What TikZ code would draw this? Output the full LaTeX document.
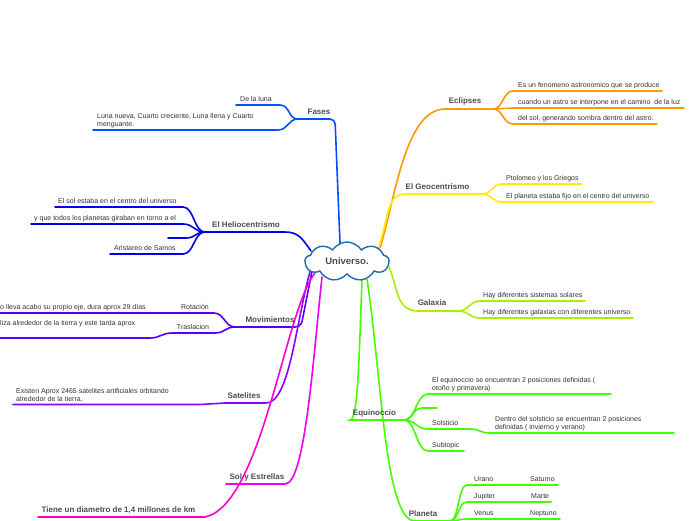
\documentclass[tikz,border=0pt]{standalone}
\usepackage{fontspec}
\setmainfont{Liberation Sans}
\usetikzlibrary{shapes.symbols}
\definecolor{cFases}{HTML}{0050FF}
\definecolor{cHelio}{HTML}{0000EE}
\definecolor{cMov}{HTML}{5500FF}
\definecolor{cSat}{HTML}{8800FF}
\definecolor{cSol}{HTML}{EE00EE}
\definecolor{cTiene}{HTML}{FF00CC}
\definecolor{cEcl}{HTML}{FF9900}
\definecolor{cGeo}{HTML}{FFEE00}
\definecolor{cGal}{HTML}{AAEE00}
\definecolor{cEqu}{HTML}{44FF00}
\definecolor{cloudc}{HTML}{1F6BAE}
\definecolor{txt}{HTML}{333333}
\definecolor{labc}{HTML}{4D4D4D}
\begin{document}
\begin{tikzpicture}[x=1pt,y=-1pt,
  br/.style={line width=1.6pt, line cap=round},
  leaf/.style={font=\fontsize{7}{8}\selectfont, text=txt, inner sep=0pt, anchor=base west},
  leafm/.style={font=\fontsize{7}{8}\selectfont, text=txt, inner sep=0pt, anchor=south west, align=left},
  lab/.style={font=\fontsize{8}{9}\selectfont\bfseries, text=labc, inner sep=0pt, anchor=base},
]
\fill[white] (0,0) rectangle (696,520);
\useasboundingbox (0,0) rectangle (696,520);

% ---------- coordinates ----------
% Fases
\coordinate (fS) at (340,243); \coordinate (fC) at (335,119); \coordinate (fJ) at (298,119);
\coordinate (f1a) at (280,105); \coordinate (f1b) at (236,105);
\coordinate (f2a) at (278,130); \coordinate (f2b) at (93,130);
% Heliocentrismo
\coordinate (hS) at (311,251); \coordinate (hC) at (285,232); \coordinate (hJ) at (205,232);
\coordinate (h1a) at (183,207); \coordinate (h1b) at (55,207);
\coordinate (h2a) at (183,224); \coordinate (h2b) at (31,224);
\coordinate (h3a) at (186,238); \coordinate (h3b) at (168,238);
\coordinate (h4a) at (183,254); \coordinate (h4b) at (110,254);
% Movimientos
\coordinate (mS) at (313,266); \coordinate (mC) at (301,327); \coordinate (mJ) at (235,327);
\coordinate (m1a) at (214,313); \coordinate (m1b) at (0,313);
\coordinate (m2a) at (215,333); \coordinate (m2b) at (172,333);
\coordinate (m2c) at (150,338); \coordinate (m2d) at (0,338);
% Satelites
\coordinate (sS) at (311,268); \coordinate (sC) at (266,403); \coordinate (sJ) at (225,403);
\coordinate (s1a) at (200,404.5); \coordinate (s1b) at (13,404.5);
% Sol y Estrellas
\coordinate (soS) at (322,277); \coordinate (soC) at (285,484); \coordinate (soJ) at (226,484);
% Tiene
\coordinate (tS) at (315,273); \coordinate (tC) at (205,517); \coordinate (tE) at (38,517);
% Eclipses
\coordinate (eS) at (380,248); \coordinate (eC) at (445,109); \coordinate (eJ) at (493,109);
\coordinate (e1a) at (513,91); \coordinate (e1b) at (662,91);
\coordinate (e2a) at (513,108); \coordinate (e2b) at (684,108);
\coordinate (e3a) at (513,124); \coordinate (e3b) at (657,124);
% Geocentrismo
\coordinate (gS) at (378,249); \coordinate (gC) at (405,194); \coordinate (gJ) at (482,194);
\coordinate (g1a) at (502,184); \coordinate (g1b) at (582,184);
\coordinate (g2a) at (502,202); \coordinate (g2b) at (653,202);
% Galaxia
\coordinate (gaS) at (389,267); \coordinate (gaC) at (418,311); \coordinate (gaJ) at (458,311);
\coordinate (ga1a) at (480,301); \coordinate (ga1b) at (585,301);
\coordinate (ga2a) at (480,318); \coordinate (ga2b) at (633,318);
% Equinoccio
\coordinate (eqS) at (362,279); \coordinate (eqC) at (350,420); \coordinate (eqJ) at (404,420);
\coordinate (eq1a) at (428,394); \coordinate (eq1b) at (611,394);
\coordinate (eq2a) at (422,408); \coordinate (eq2b) at (437,408);
\coordinate (eq3a) at (428,429); \coordinate (eq3b) at (470,429);
\coordinate (eq3c) at (490,433); \coordinate (eq3d) at (674,433);
\coordinate (eq4a) at (428,451); \coordinate (eq4b) at (464,451);
% Planeta
\coordinate (pS) at (367,279); \coordinate (pC) at (415,521); \coordinate (pJ) at (450,521);
\coordinate (p1a) at (467,485); \coordinate (p1b) at (558,485);
\coordinate (p2a) at (467,502); \coordinate (p2b) at (551,502);
\coordinate (p3a) at (467,519); \coordinate (p3b) at (560,519);

% ---------- connectors ----------
\draw[br,cFases,rounded corners=5pt] (fS) -- (fC) -- (fJ);
\draw[br,cFases] (fJ) .. controls +(-10,0) and +(10,0) .. (f1a) -- (f1b);
\draw[br,cFases] (fJ) .. controls +(-10,0) and +(10,0) .. (f2a) -- (f2b);

\draw[br,cHelio] (hS) .. controls (302,238) and (298,232) .. (hC) -- (hJ);
\draw[br,cHelio] (hJ) .. controls +(-11,0) and +(11,0) .. (h1a) -- (h1b);
\draw[br,cHelio] (hJ) .. controls +(-11,0) and +(11,0) .. (h2a) -- (h2b);
\draw[br,cHelio] (hJ) .. controls +(-10,0) and +(10,0) .. (h3a) -- (h3b);
\draw[br,cHelio] (hJ) .. controls +(-11,0) and +(11,0) .. (h4a) -- (h4b);

\draw[br,cMov,rounded corners=6pt] (mS) -- (mC) -- (mJ);
\draw[br,cMov] (mJ) .. controls +(-10,0) and +(10,0) .. (m1a) -- (m1b);
\draw[br,cMov] (mJ) .. controls +(-10,0) and +(10,0) .. (m2a) -- (m2b)
   .. controls +(-10,0) and +(10,0) .. (m2c) -- (m2d);

\draw[br,cSat] (sS) .. controls (296,320) and (290,403) .. (sC) -- (sJ);
\draw[br,cSat] (sJ) .. controls +(-12,0) and +(12,0) .. (s1a) -- (s1b);

\draw[br,cSol] (soS) .. controls (313,360) and (305,484) .. (soC) -- (soJ);

\draw[br,cTiene] (tS) .. controls (285,310) and (262,505) .. (tC) -- (tE);

\draw[br,cEcl] (eS) .. controls (395,200) and (405,109) .. (eC) -- (eJ);
\draw[br,cEcl] (eJ) .. controls +(10,0) and +(-10,0) .. (e1a) -- (e1b);
\draw[br,cEcl] (eJ) .. controls +(10,0) and +(-10,0) .. (e2a) -- (e2b);
\draw[br,cEcl] (eJ) .. controls +(10,0) and +(-10,0) .. (e3a) -- (e3b);

\draw[br,cGeo] (gS) .. controls (388,222) and (386,194) .. (gC) -- (gJ);
\draw[br,cGeo] (gJ) .. controls +(10,0) and +(-10,0) .. (g1a) -- (g1b);
\draw[br,cGeo] (gJ) .. controls +(10,0) and +(-10,0) .. (g2a) -- (g2b);

\draw[br,cGal] (gaS) .. controls (398,288) and (396,311) .. (gaC) -- (gaJ);
\draw[br,cGal] (gaJ) .. controls +(11,0) and +(-11,0) .. (ga1a) -- (ga1b);
\draw[br,cGal] (gaJ) .. controls +(11,0) and +(-11,0) .. (ga2a) -- (ga2b);

\draw[br,cEqu] (eqS) .. controls (359,360) and (358,420) .. (eqC) -- (eqJ);
\draw[br,cEqu] (eqJ) .. controls +(12,0) and +(-12,0) .. (eq1a) -- (eq1b);
\draw[br,cEqu] (eqJ) .. controls +(9,0) and +(-9,0) .. (eq2a) -- (eq2b);
\draw[br,cEqu] (eqJ) .. controls +(12,0) and +(-12,0) .. (eq3a) -- (eq3b)
   .. controls +(10,0) and +(-10,0) .. (eq3c) -- (eq3d);
\draw[br,cEqu] (eqJ) .. controls +(12,0) and +(-12,0) .. (eq4a) -- (eq4b);

\draw[br,cEqu] (pS) .. controls (382,380) and (385,521) .. (pC) -- (pJ);
\draw[br,cEqu] (pJ) .. controls +(9,0) and +(-9,0) .. (p1a) -- (p1b);
\draw[br,cEqu] (pJ) .. controls +(9,0) and +(-9,0) .. (p2a) -- (p2b);
\draw[br,cEqu] (pJ) .. controls +(9,0) and +(-9,0) .. (p3a) -- (p3b);

% ---------- central cloud ----------
\node[cloud, cloud puffs=9, cloud puff arc=115, aspect=2.1, draw=cloudc, fill=white,
      line width=1.4pt, minimum width=84pt, minimum height=39pt, inner sep=0pt,
      font=\fontsize{9.5}{11}\selectfont\bfseries, text=labc] (U) at (347,261.5) {Universo.};

% ---------- branch labels ----------
\node[lab] (lFases) at (319,114.5) {Fases};
\node[lab] (lHelio) at (246,227.5) {El Heliocentrismo};
\node[lab] (lMov) at (270,322.5) {Movimientos};
\node[lab] (lSat) at (244,398.5) {Satelites};
\node[lab] (lSol) at (257,479.5) {Sol y Estrellas};
\node[lab] (lTiene) at (118.5,512.5) {Tiene un diametro de 1,4 millones de km};
\node[lab] (lEcl) at (465,103.5) {Eclipses};
\node[lab] (lGeo) at (437.5,189.5) {El Geocentrismo};
\node[lab] (lGal) at (432,305.5) {Galaxia};
\node[lab] (lEqu) at (374.5,415.5) {Equinoccio};
\node[lab] (lPlan) at (423,516.5) {Planeta};

% ---------- leaf texts ----------
\node[leaf] (tf1) at (240,101.5) {De la luna};
\node[leafm] (tf2) at (97,128) {Luna nueva, Cuarto creciente, Luna llena y Cuarto\\menguante.};
\node[leaf] (th1) at (58,203.5) {El sol estaba en el centro del universo};
\node[leaf] (th2) at (34,220.5) {y que todos los planetas giraban en torno a el};
\node[leaf] (th4) at (114,250.5) {Aristareo de Samos};
\node[leaf] (tm1) at (0,309) {o lleva acabo su propio eje, dura aprox 29 días};
\node[leaf,anchor=base] (tm1l) at (195,309) {Rotación};
\node[leaf] (tm2) at (0,325.5) {liza alrededor de la tierra y este tarda aprox};
\node[leaf,anchor=base] (tm2l) at (193,329.5) {Traslacion};
\node[leafm] (ts1) at (16,402) {Existen Aprox 2465 satelites artificiales orbitando\\alrededor de la tierra.};
\node[leaf] (te1) at (518,87.5) {Es un fenomeno astronomico que se produce};
\node[leaf] (te2) at (518,104.5) {cuando un astro se interpone en el camino\ \ de la luz};
\node[leaf] (te3) at (518,120.5) {del sol, generando sombra dentro del astro.};
\node[leaf] (tg1) at (506,180.5) {Ptolomeo y los Griegos};
\node[leaf] (tg2) at (506,198.5) {El planeta estaba fijo en el centro del universo};
\node[leaf] (tga1) at (483,297.5) {Hay diferentes sistemas solares};
\node[leaf] (tga2) at (483,314.5) {Hay diferentes galaxias con diferentes universo};
\node[leafm] (teq1) at (432,392) {El equinoccio se encuentran 2 posiciones definidas (\\otoño y primavera)};
\node[leaf] (teq3) at (432,425.5) {Solsticio};
\node[leafm] (teq3b) at (495,431) {Dentro del solsticio se encuentran 2 posiciones\\definidas ( invierno y verano)};
\node[leaf] (teq4) at (432,447) {Subtopic};
\node[leaf] (tp1) at (474,481) {Urano};
\node[leaf] (tp1b) at (530,481) {Saturno};
\node[leaf] (tp2) at (474,498) {Jupiter};
\node[leaf] (tp2b) at (531,498) {Marte};
\node[leaf] (tp3) at (474,515) {Venus};
\node[leaf] (tp3b) at (530,515) {Neptuno};
\end{tikzpicture}
\end{document}
